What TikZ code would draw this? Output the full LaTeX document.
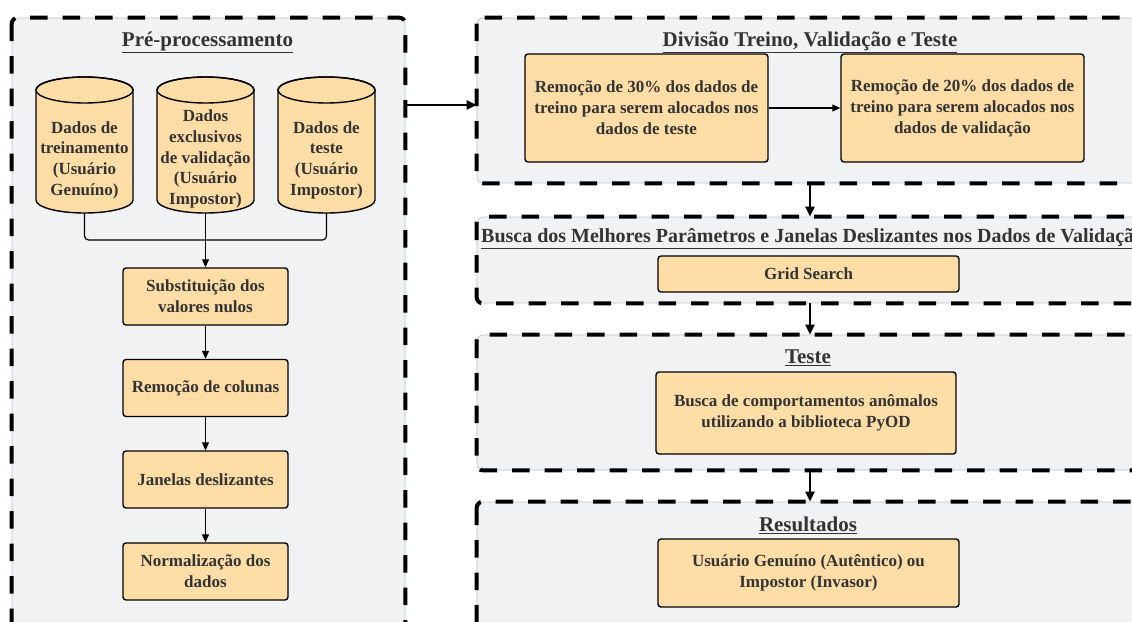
\documentclass[tikz,border=0pt]{standalone}
\usepackage{fontspec}
\setmainfont{Liberation Serif}
\usetikzlibrary{arrows.meta,calc}
\definecolor{panelfill}{HTML}{F1F2F4}
\definecolor{boxfill}{HTML}{FFDDA6}
\definecolor{txt}{HTML}{333333}
\begin{document}
\begin{tikzpicture}[x=1pt,y=-1pt,
  panelbox/.style={draw=black!25, line width=0.6pt, fill=panelfill, rounded corners=6pt, inner sep=0pt},
  paneldash/.style={draw=black, line width=4pt, dash pattern=on 17.5pt off 15pt, rounded corners=6pt},
  procbox/.style={draw=black, line width=1.4pt, fill=boxfill, rounded corners=3pt, inner sep=2pt,
    align=center, text=txt, font=\bfseries\fontsize{17}{21}\selectfont},
  cyltext/.style={align=center, text=txt, inner sep=0pt, font=\bfseries\fontsize{17}{20.7}\selectfont},
  cylspot/.style={inner sep=0pt, minimum width=97pt, minimum height=136pt},
  title/.style={text=txt, inner sep=0pt, font=\bfseries\fontsize{21}{25}\selectfont},
  conn/.style={draw=black, line width=1.2pt},
  arr/.style={conn, -{Triangle[length=8pt,width=7pt]}},
  bigarr/.style={draw=black, line width=2.4pt, -{Triangle[length=10pt,width=9pt]}}
]
\useasboundingbox (0,0) rectangle (1132,621);
\clip (0,0) rectangle (1132,621);
\fill[white] (0,0) rectangle (1132,621);

% panels
\node[panelbox, minimum width=393pt, minimum height=622pt] (pre) at (208.5,329) {};
\node[panelbox, minimum width=666pt, minimum height=165pt] (div) at (810,100.5) {};
\node[panelbox, minimum width=666pt, minimum height=86pt] (busca) at (810,260) {};
\node[panelbox, minimum width=666pt, minimum height=135pt] (teste) at (810,402.5) {};
\node[panelbox, minimum width=666pt, minimum height=138pt] (res) at (810,571) {};
\foreach \p in {pre,div,busca,teste,res}
  \draw[paneldash] (\p.north west) rectangle (\p.south east);

% titles
\node[title] (tpre) at (207.5,42) {\underline{Pré-processamento}};
\node[title] (tdiv) at (810,42) {\underline{Divisão Treino, Validação e Teste}};
\node[title, anchor=west, font=\bfseries\fontsize{20}{24}\selectfont] (tbus) at (481,239) {\underline{Busca dos Melhores Parâmetros e Janelas Deslizantes nos Dados de Validação}};
\node[title] (ttes) at (808,358) {\underline{Teste}};
\node[title] (tres) at (808,525) {\underline{Resultados}};

% cylinders
\foreach \cx in {84.5,205.5,326.5}{
  \filldraw[fill=boxfill, draw=black, line width=1.4pt]
    (\cx-48.5,90) -- (\cx-48.5,200) arc (180:360:48.5pt and 13pt) -- (\cx+48.5,90)
    arc (0:180:48.5pt and 13pt) -- cycle;
  \draw[black, line width=1.4pt] (\cx,90) ellipse (48.5pt and 13pt);
}
\node[cylspot] (c1) at (84.5,145) {};
\node[cylspot] (c2) at (205.5,145) {};
\node[cylspot] (c3) at (326.5,145) {};
\node[cyltext] (c1t) at (84.5,160) {Dados de\\treinamento\\(Usuário\\Genuíno)};
\node[cyltext] (c2t) at (205.5,159) {Dados\\exclusivos\\de validação\\(Usuário\\Impostor)};
\node[cyltext] (c3t) at (326.5,160) {Dados de\\teste\\(Usuário\\Impostor)};

% left process boxes
\node[procbox, minimum width=165pt, minimum height=57pt] (s1) at (205.5,296.5) {Substituição dos\\valores nulos};
\node[procbox, minimum width=165pt, minimum height=57pt] (s2) at (205.5,388) {Remoção de colunas};
\node[procbox, minimum width=165pt, minimum height=57pt] (s3) at (205.5,479.5) {Janelas deslizantes};
\node[procbox, minimum width=165pt, minimum height=57pt] (s4) at (205.5,571.5) {Normalização dos\\dados};

\coordinate (j) at (205.5,240);
\draw[conn, rounded corners=4pt] (c1.south) |- (j) -| (c3.south);
\draw[arr] (c2.south) -- (s1.north);
\draw[arr] (s1) -- (s2);
\draw[arr] (s2) -- (s3);
\draw[arr] (s3) -- (s4);

% right boxes
\node[procbox, minimum width=243pt, minimum height=108pt] (ba) at (646.5,108) {Remoção de 30\% dos dados de\\treino para serem alocados nos\\dados de teste};
\node[procbox, minimum width=243pt, minimum height=108pt] (bb) at (962.5,108) {Remoção de 20\% dos dados de\\treino para serem alocados nos\\dados de validação};
\node[procbox, minimum width=301pt, minimum height=36pt] (grid) at (808.5,274) {Grid Search};
\node[procbox, minimum width=300pt, minimum height=82pt] (py) at (806,413) {Busca de comportamentos anômalos\\utilizando a biblioteca PyOD};
\node[procbox, minimum width=301pt, minimum height=68pt] (out) at (808.5,573) {Usuário Genuíno (Autêntico) ou\\Impostor (Invasor)};

\draw[arr] (ba) -- (bb);
\coordinate (ay) at (0,105);
\draw[bigarr] (pre.east |- ay) -- (div.west |- ay);
\draw[bigarr] (div.south) -- (busca.north);
\draw[bigarr] (busca.south) -- (teste.north);
\draw[bigarr] (teste.south) -- (res.north);
\end{tikzpicture}
\end{document}
